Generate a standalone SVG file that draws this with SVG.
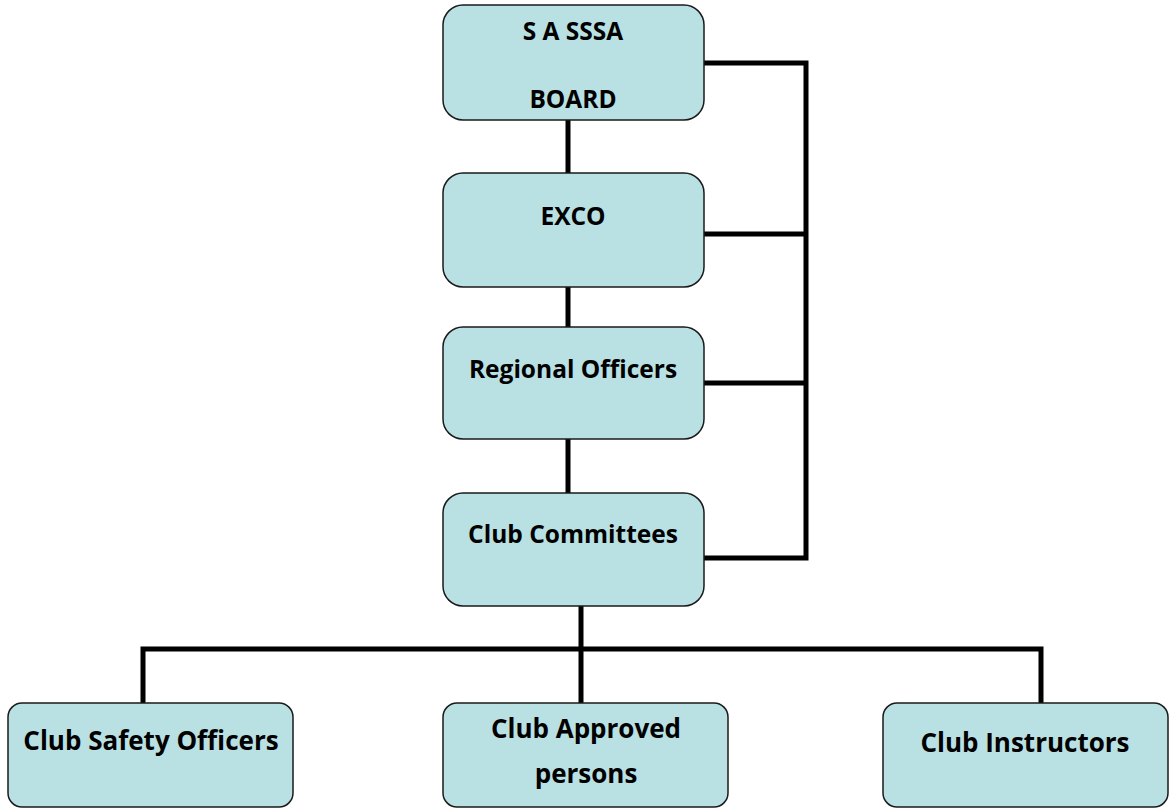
<svg xmlns="http://www.w3.org/2000/svg" width="1171" height="809" viewBox="0 0 1171 809">
<style>
.box{fill:#b9e0e3;stroke:#1a1a1a;stroke-width:1.5}
.lbl{font-family:"Open Sans","Liberation Sans",sans-serif;font-weight:bold;font-size:24.5px;fill:#000;text-anchor:middle}
.big{font-size:26px}
.con{fill:none;stroke:#000;stroke-width:5;stroke-linecap:butt;stroke-linejoin:miter}
</style>
<rect width="1171" height="809" fill="#fff"/>
<g id="connectors">
<path class="con" d="M704 63 H806 V558 H704"/>
<path class="con" d="M704 234 H806"/>
<path class="con" d="M704 383 H806"/>
<path class="con" d="M568 120 V173"/>
<path class="con" d="M568 287 V327"/>
<path class="con" d="M568 439 V493"/>
<path class="con" d="M581 606 V703"/>
<path class="con" d="M143 703 V649 H1041 V703"/>
</g>
<g id="board">
<rect class="box" x="443" y="5" width="261" height="115" rx="20"/>
<text class="lbl" x="573" y="40">S A SSSA</text>
<text class="lbl" x="573" y="108">BOARD</text>
</g>
<g id="exco">
<rect class="box" x="443" y="173" width="261" height="114" rx="20"/>
<text class="lbl" x="573" y="225">EXCO</text>
</g>
<g id="regional">
<rect class="box" x="443" y="327" width="261" height="112" rx="20"/>
<text class="lbl" x="573" y="378">Regional Officers</text>
</g>
<g id="committees">
<rect class="box" x="443" y="493" width="261" height="113" rx="20"/>
<text class="lbl" x="573" y="543">Club Committees</text>
</g>
<g id="safety">
<rect class="box" x="8" y="703" width="285" height="104" rx="14"/>
<text class="lbl big" x="151" y="750">Club Safety Officers</text>
</g>
<g id="approved">
<rect class="box" x="443" y="703" width="285" height="104" rx="14"/>
<text class="lbl big" x="586" y="738">Club Approved</text>
<text class="lbl big" x="586" y="783">persons</text>
</g>
<g id="instructors">
<rect class="box" x="883" y="703" width="285" height="104" rx="14"/>
<text class="lbl big" x="1025" y="752">Club Instructors</text>
</g>
</svg>
